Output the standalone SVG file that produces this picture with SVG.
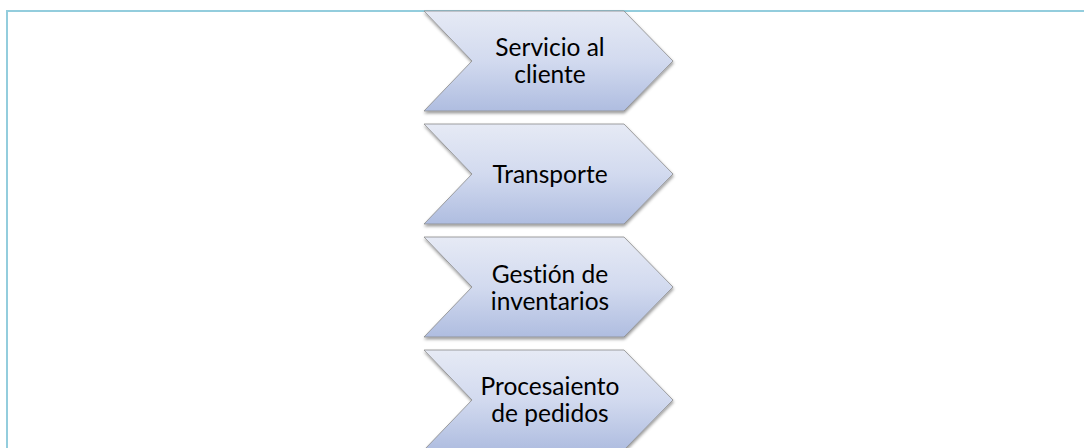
<svg xmlns="http://www.w3.org/2000/svg" width="1084" height="448" viewBox="0 0 1084 448">
  <defs>
    <linearGradient id="chevFill" x1="0" y1="0" x2="0" y2="1">
      <stop offset="0" stop-color="#E6EAF5"/>
      <stop offset="0.5" stop-color="#D2DAEF"/>
      <stop offset="1" stop-color="#AFBDE0"/>
    </linearGradient>
    <filter id="shadow" x="-10%" y="-10%" width="120%" height="130%">
      <feDropShadow dx="0.5" dy="2" stdDeviation="1.5" flood-color="#000" flood-opacity="0.4"/>
    </filter>
    <path id="chev" d="M0,0 H200 L249,50 L200,100 H0 L48,50 Z"/>
  </defs>
  <style>
    .frame { fill: none; stroke: #93CDDD; stroke-width: 2; }
    .chev { fill: url(#chevFill); stroke: #8A8A8A; stroke-width: 0.8; filter: url(#shadow); }
    .lbl { font-family: "Lato", "Open Sans", "Liberation Sans", sans-serif; font-size: 24.5px; fill: #000; text-anchor: middle; font-variant-ligatures: none; }
  </style>
  <rect width="1084" height="448" fill="#FFFFFF"/>
  <path class="frame" d="M1084,11 H7 V448"/>
  <g id="connectors"/>
  <g id="node-servicio">
    <use href="#chev" class="chev" x="424" y="11"/>
    <text class="lbl" x="550" y="56">Servicio al</text>
    <text class="lbl" x="550" y="83">cliente</text>
  </g>
  <g id="node-transporte">
    <use href="#chev" class="chev" x="424" y="124"/>
    <text class="lbl" x="550" y="183">Transporte</text>
  </g>
  <g id="node-gestion">
    <use href="#chev" class="chev" x="424" y="237"/>
    <text class="lbl" x="550" y="283">Gestión de</text>
    <text class="lbl" x="550" y="310">inventarios</text>
  </g>
  <g id="node-procesamiento">
    <use href="#chev" class="chev" x="424" y="350"/>
    <text class="lbl" x="550" y="395">Procesaiento</text>
    <text class="lbl" x="550" y="422">de pedidos</text>
  </g>
</svg>
